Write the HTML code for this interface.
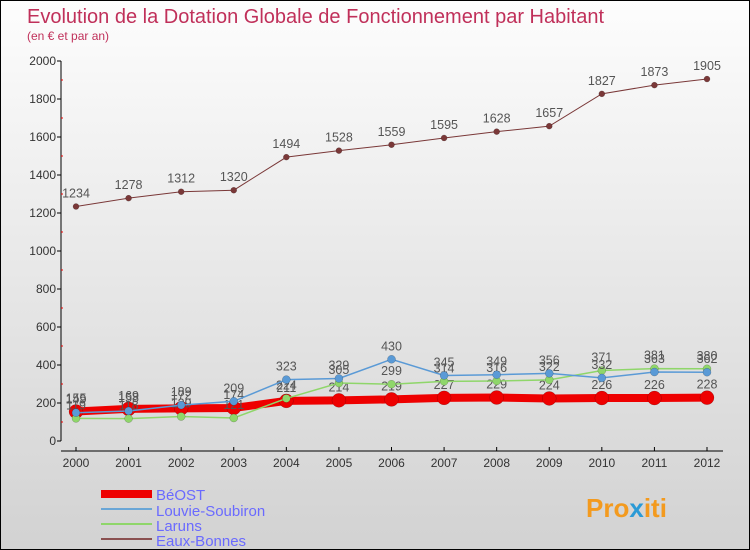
<!DOCTYPE html>
<html><head><meta charset="utf-8"><style>
body{margin:0}
#c{width:750px;height:550px;position:relative;background:linear-gradient(#fdfdfd,#d2d2d2);border:1px solid #000;box-sizing:border-box;overflow:hidden;font-family:"Liberation Sans",sans-serif}
</style></head><body>
<div id="c">
<svg width="750" height="550" id="s">
<text x="26" y="22" font-size="20" fill="#c0305a">Evolution de la Dotation Globale de Fonctionnement par Habitant</text>
<text x="26" y="39" font-size="12" fill="#c0305a">(en € et par an)</text>
<line x1="60" y1="60" x2="60" y2="440" stroke="#000"/>
<line x1="60" y1="450" x2="722" y2="450" stroke="#000"/>
<g id="g"></g>
<g>
<rect x="100" y="489" width="51" height="8" fill="#e00"/>
<text x="155" y="499" font-size="15" fill="#6a6aff">BéOST</text>
<rect x="100" y="507" width="51" height="2" fill="#6aa6d6"/>
<text x="155" y="515" font-size="15" fill="#6a6aff">Louvie-Soubiron</text>
<rect x="100" y="522" width="51" height="2" fill="#8fd66a"/>
<text x="155" y="530" font-size="15" fill="#6a6aff">Laruns</text>
<rect x="100" y="537" width="51" height="2" fill="#8a5050"/>
<text x="155" y="545" font-size="15" fill="#6a6aff">Eaux-Bonnes</text>
</g>
<text x="585" y="516" font-size="26" font-weight="bold" fill="#f39a1e">Pro<tspan fill="#2a9ad6">x</tspan>iti</text>
</svg>
</div>
<script>
const years=[2000,2001,2002,2003,2004,2005,2006,2007,2008,2009,2010,2011,2012];
const yTicks=[0,200,400,600,800,1000,1200,1400,1600,1800,2000];
const beost=[155,169,172,174,211,214,219,227,229,224,226,226,228];
const louvie=[149,158,189,209,323,329,430,345,349,356,332,363,362];
const laruns=[119,118,129,121,224,305,299,314,316,322,371,381,380];
const eaux=[1234,1278,1312,1320,1494,1528,1559,1595,1628,1657,1827,1873,1905];
const NS="http://www.w3.org/2000/svg",g=document.getElementById('g');
const X=i=>75+i*(706-75)/(years.length-1);
const Y=v=>440-v*380/2000;
function mk(t,a){const e=document.createElementNS(NS,t);for(const k in a)e.setAttribute(k,a[k]);g.appendChild(e);return e;}
for(let v=0;v<=2000;v+=100){
 const l=mk('line',{x1:v%200?60:56,x2:v%200?62:60,y1:Y(v),y2:Y(v),stroke:v%200?'#e00':'#000'});
 
 
}
yTicks.forEach(v=>{const t=mk('text',{x:55,y:Y(v)+4,'font-size':12,'text-anchor':'end',fill:'#333'});t.textContent=v;
 
 });
years.forEach((y,i)=>{const l=mk('line',{x1:X(i),x2:X(i),y1:446,y2:450,stroke:'#000'});
 
 
 const t=mk('text',{x:X(i),y:466,'font-size':12,'text-anchor':'middle',fill:'#333'});t.textContent=y;
 
 });
function series(d,col,w,r,name){
 const p=mk('polyline',{points:d.map((v,i)=>X(i)+','+Y(v)).join(' '),fill:'none',stroke:col,'stroke-width':w});
 
 
 d.forEach((v,i)=>{const c=mk('circle',{cx:X(i),cy:Y(v),r:r,fill:col,stroke:'rgba(0,0,0,0.3)','stroke-width':0.5});
  
  
  const t=mk('text',{x:X(i),y:Y(v)-9,'font-size':12.5,'text-anchor':'middle',fill:'#555'});t.textContent=v;
  
  });
}
series(eaux,'#7a3838',1,3,'eaux-bonnes');
series(beost,'#ee0000',8,7,'beost');
series(laruns,'#8fd66a',1.5,4,'laruns');
series(louvie,'#5a9ad6',1.5,4,'louvie');
</script>
</body></html>
